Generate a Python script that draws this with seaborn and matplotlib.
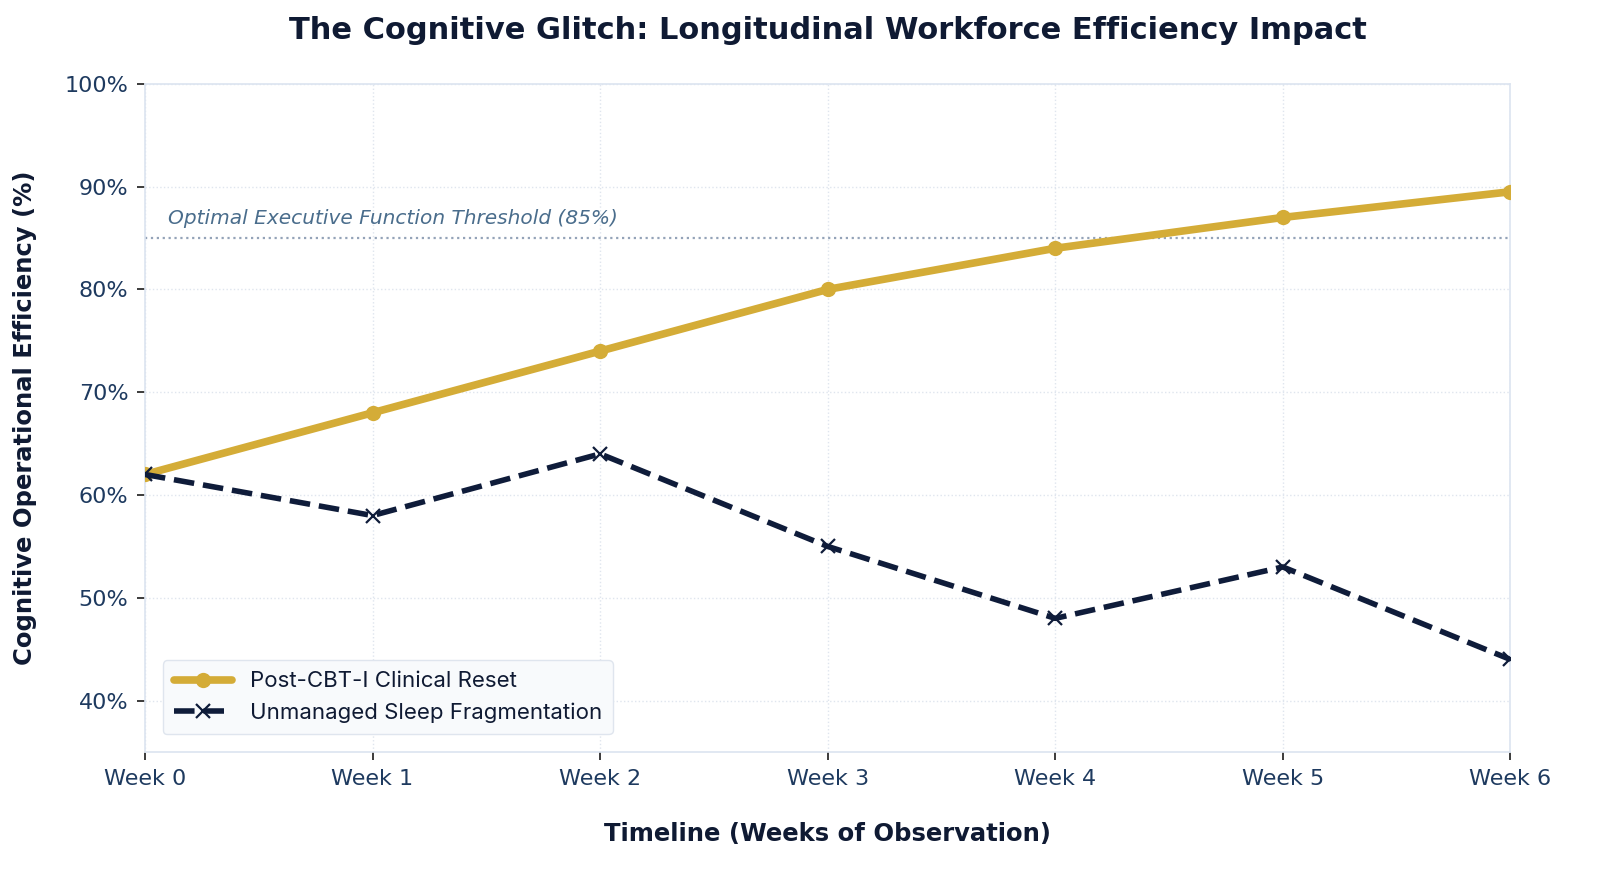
import numpy as np
import pandas as pd
import seaborn as sns
import matplotlib.pyplot as plt
from matplotlib.ticker import FuncFormatter

# Data
weeks = ['Week 0', 'Week 1', 'Week 2', 'Week 3', 'Week 4', 'Week 5', 'Week 6']
week_num = [0, 1, 2, 3, 4, 5, 6]
cbt_reset = [62, 68, 74, 80, 84, 87, 89.5]
unmanaged = [62, 58, 64, 55, 48, 53, 44]
threshold = 85

df = pd.DataFrame({'week': week_num, 'cbt': cbt_reset, 'unmanaged': unmanaged})

sns.set_theme(style='white')
plt.rcParams['font.family'] = ['DejaVu Sans']

gold = '#d4ac37'
navy = '#0f1c3a'
tick_col = '#1e3a5f'

fig, ax = plt.subplots(figsize=(16, 8.73), dpi=100)
fig.subplots_adjust(left=0.0906, right=0.944, top=0.904, bottom=0.1386)

sns.lineplot(data=df, x='week', y='cbt', ax=ax, color=gold, linewidth=5.5,
             marker='o', markersize=11, markeredgewidth=0, markeredgecolor=gold,
             label='Post-CBT-I Clinical Reset', zorder=3)
sns.lineplot(data=df, x='week', y='unmanaged', ax=ax, color=navy, linewidth=4,
             linestyle='--', dashes=(3.7, 1.9), marker='x', markersize=10,
             markeredgewidth=1.6, markeredgecolor=navy,
             label='Unmanaged Sleep Fragmentation', zorder=4)

# threshold line
ax.axhline(threshold, color='#94a3b8', linestyle=':', linewidth=1.6, zorder=2)
ax.text(0.1, threshold + 1, 'Optimal Executive Function Threshold (85%)',
        fontsize=14.5, style='italic', color='#4a6d8c', va='bottom', ha='left')

ax.set_xlim(0, 6)
ax.set_ylim(35, 100)
ax.set_xticks(week_num)
ax.set_xticklabels(weeks)
ax.set_yticks([40, 50, 60, 70, 80, 90, 100])
ax.yaxis.set_major_formatter(FuncFormatter(lambda v, p: f'{int(v)}%'))

ax.grid(True, linestyle=':', color='#dfe5ee', linewidth=1)
ax.set_axisbelow(True)
for s in ax.spines.values():
    s.set_color('#dce4f0')
    s.set_linewidth(1.2)

ax.tick_params(axis='both', labelsize=16, labelcolor=tick_col, length=6, width=1.2,
               pad=6, bottom=True, left=True, color='#1a1a1a')

ax.set_title('The Cognitive Glitch: Longitudinal Workforce Efficiency Impact',
             fontsize=22, fontweight='bold', color='#0f1a33', pad=32)
ax.set_xlabel('Timeline (Weeks of Observation)', fontsize=17.5, fontweight='bold',
              color='#0f1a33', labelpad=24)
ax.set_ylabel('Cognitive Operational Efficiency (%)', fontsize=17.5, fontweight='bold',
              color='#0f1a33', labelpad=20)

leg = ax.legend(loc='lower left', fontsize=16, frameon=True, fancybox=True,
                facecolor='#f8fafc', edgecolor='#dfe5ee', framealpha=1,
                borderpad=0.5, handlelength=2.6, bbox_to_anchor=(0.005, 0.01))
for t in leg.get_texts():
    t.set_family(['Inter', 'DejaVu Sans'])
    t.set_color('#0f1a33')

fig.savefig('out.png', dpi=100)
